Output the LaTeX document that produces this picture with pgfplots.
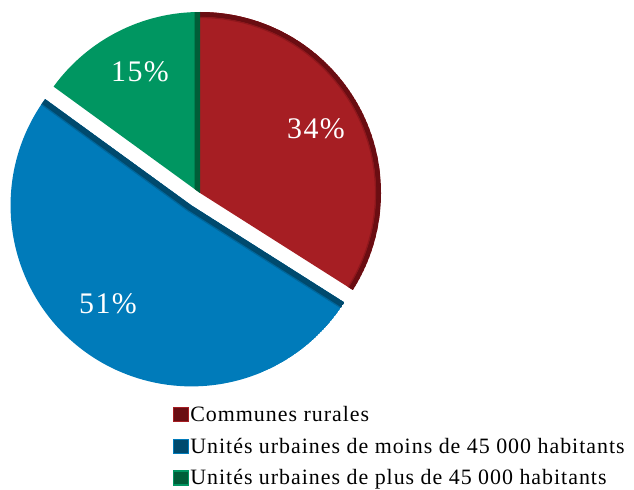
\documentclass[border=0pt]{standalone}
\usepackage{pgfplots}
\pgfplotsset{compat=1.18}
\usepackage{fontspec}
\setmainfont{Liberation Serif}
\newfontfamily\legfont[LetterSpace=4.5]{Liberation Serif}
\newfontfamily\labfont[LetterSpace=5]{Liberation Serif}
\definecolor{cred}{HTML}{A61E23}
\definecolor{cdred}{HTML}{6A0D12}
\definecolor{cblue}{HTML}{007BBA}
\definecolor{cdblue}{HTML}{004A6E}
\definecolor{cgreen}{HTML}{009661}
\definecolor{cdgreen}{HTML}{005E38}
\begin{document}
\begin{tikzpicture}
\begin{axis}[
  scale only axis, width=634bp, height=490bp,
  xmin=0, xmax=634, ymin=0, ymax=490, y dir=reverse,
  hide axis, clip=false,
  legend style={at={(axis cs:170,403)}, anchor=north west, draw=none, fill=none,
    font=\legfont\fontsize{22}{23}\selectfont, row sep=13bp,
    nodes={inner sep=1bp, text=black}},
  legend cell align=left,
]
% shares (percent), clockwise from 12 o'clock
\pgfmathtruncatemacro{\vr}{34}
\pgfmathtruncatemacro{\vb}{51}
\pgfmathtruncatemacro{\vg}{15}
\pgfmathsetmacro{\aA}{90}
\pgfmathsetmacro{\aB}{90-3.6*\vr}
\pgfmathsetmacro{\aC}{\aB-3.6*\vb+360}
\pgfmathsetmacro{\aD}{\aC-3.6*\vg}
\pgfmathsetmacro{\aBB}{\aB+360}
\pgfmathsetmacro{\mid}{(\aC+\aBB)/2}
\def\R{181bp}
% red slice
\begin{scope}
\path[clip] (axis cs:200,193) -- ++(\aA:\R) arc[start angle=\aA, end angle=\aB, radius=\R] -- cycle;
\fill[cred] (axis cs:200,193) -- ++(\aA:\R) arc[start angle=\aA, end angle=\aB, radius=\R] -- cycle;
\draw[cdred, line width=10bp] (axis cs:200,193) ++(\aA:\R) arc[start angle=\aA, end angle=\aB, radius=\R];
\draw[cred!60!cdred, line width=1.2bp] (axis cs:200,193) ++(\aA:\R-5.5bp) arc[start angle=\aA, end angle=\aB, radius=\R-5.5bp];
\end{scope}
% green slice
\begin{scope}
\path[clip] (axis cs:200,193) -- ++(\aD:\R) arc[start angle=\aD, end angle=\aC, radius=\R] -- cycle;
\fill[cgreen] (axis cs:200,193) -- ++(\aD:\R) arc[start angle=\aD, end angle=\aC, radius=\R] -- cycle;
\draw[cdgreen, line width=10bp] (axis cs:200,193) -- ++(\aD:\R);
\draw[cgreen!60!cdgreen, line width=1.2bp] (axis cs:194.5,193) -- ++(\aD:\R);
\end{scope}
% blue slice (exploded)
\begin{scope}
\path[clip] (axis cs:200,193) ++(\mid:15bp) -- ++(\aC:\R) arc[start angle=\aC, end angle=\aBB, radius=\R] -- cycle;
\fill[cblue] (axis cs:200,193) ++(\mid:15bp) -- ++(\aC:\R) arc[start angle=\aC, end angle=\aBB, radius=\R] -- cycle;
\draw[cdblue, line width=13bp] (axis cs:200,193) ++(\mid:15bp) ++(\aC:\R) -- ++(\aC+180:\R) -- ++(\aBB:\R);
\draw[cblue!60!cdblue, line width=1.2bp] (axis cs:200,193) ++(\mid:21.5bp) ++(\aC:\R) -- ++(\aC+180:\R) -- ++(\aBB:\R);
\end{scope}
% labels
\node[text=white, font=\labfont\fontsize{30}{32}\selectfont] at (axis cs:316,129) {\vr\%};
\node[text=white, font=\labfont\fontsize{30}{32}\selectfont] at (axis cs:140,72) {\vg\%};
\node[text=white, font=\labfont\fontsize{30}{32}\selectfont] at (axis cs:108,304) {\vb\%};
% legend
\addlegendimage{legend image code/.code={\draw[fill=cdred, draw=cred, line width=1.2bp] (0bp,-7bp) rectangle (15bp,7bp);}}
\addlegendentry{Communes rurales}
\addlegendimage{legend image code/.code={\draw[fill=cdblue, draw=cblue, line width=1.2bp] (0bp,-7bp) rectangle (15bp,7bp);}}
\addlegendentry{Unités urbaines de moins de 45~000 habitants}
\addlegendimage{legend image code/.code={\draw[fill=cdgreen, draw=cgreen, line width=1.2bp] (0bp,-7bp) rectangle (15bp,7bp);}}
\addlegendentry{Unités urbaines de plus de 45~000 habitants}
\end{axis}
\pgfresetboundingbox
\path[use as bounding box] (current axis.south west) rectangle (current axis.north east);
\end{tikzpicture}
\end{document}
